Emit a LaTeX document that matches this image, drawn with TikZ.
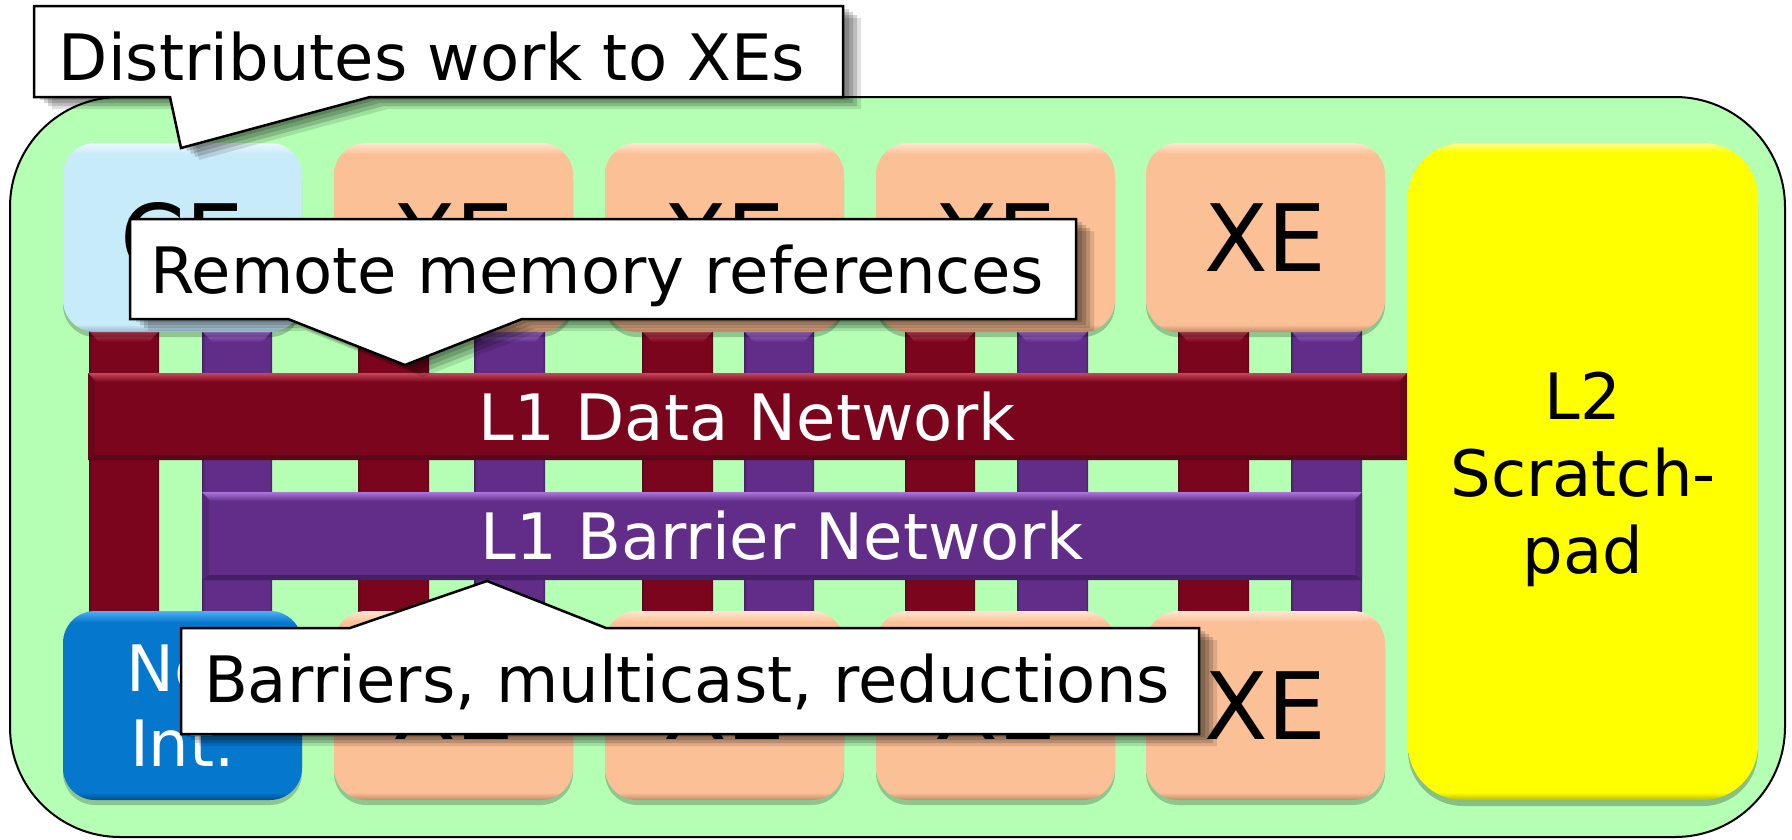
\documentclass[tikz,border=0pt]{standalone}
\usepackage{fontspec}
\setmainfont{DejaVu Sans}
\usetikzlibrary{shadows}

% base colours
\definecolor{bggreen}{RGB}{181,255,181}
\definecolor{cebl}{RGB}{200,235,250}
\definecolor{cebldk}{RGB}{150,182,204}
\definecolor{cebllt}{RGB}{236,248,255}
\definecolor{xepe}{RGB}{252,192,150}
\definecolor{xepedk}{RGB}{196,138,104}
\definecolor{xepelt}{RGB}{255,230,208}
\definecolor{niblue}{RGB}{5,119,205}
\definecolor{nibluedk}{RGB}{0,78,148}
\definecolor{nibluelt}{RGB}{80,175,245}
\definecolor{l2yel}{RGB}{255,255,0}
\definecolor{l2yeldk}{RGB}{190,190,0}
\definecolor{l2yellt}{RGB}{255,255,140}
\definecolor{netred}{RGB}{122,5,28}
\definecolor{netreddk}{RGB}{88,8,24}
\definecolor{netredlt}{RGB}{198,70,92}
\definecolor{netpur}{RGB}{97,45,137}
\definecolor{netpurdk}{RGB}{70,32,100}
\definecolor{netpurlt}{RGB}{172,118,218}

% bevelled fills: darker bottom rim, light top rim
\newcommand\defbevel[1]{%
  \pgfdeclareverticalshading{#1bev}{100bp}{color(0bp)=(#1dk); color(25bp)=(#1dk);
    color(27bp)=(#1); color(72bp)=(#1); color(75bp)=(#1lt); color(100bp)=(#1lt)}}
\defbevel{cebl}\defbevel{xepe}\defbevel{niblue}
\pgfdeclareverticalshading{l2yelbev}{100bp}{color(0bp)=(l2yeldk); color(25bp)=(l2yeldk);
  color(25.6bp)=(l2yel); color(74.3bp)=(l2yel); color(75bp)=(l2yellt); color(100bp)=(l2yellt)}
% vertical link bars: slightly darker side edges
\pgfdeclarehorizontalshading{redbarsh}{100bp}{color(0bp)=(netreddk); color(25bp)=(netreddk);
  color(27bp)=(netred); color(73bp)=(netred); color(75bp)=(netreddk); color(100bp)=(netreddk)}
\pgfdeclarehorizontalshading{purbarsh}{100bp}{color(0bp)=(netpurdk); color(25bp)=(netpurdk);
  color(27bp)=(netpur); color(73bp)=(netpur); color(75bp)=(netpurdk); color(100bp)=(netpurdk)}

\newcommand\xefont{\fontsize{93}{110}\selectfont}
\newcommand\lblfont{\fontsize{64}{77}\selectfont}

% chamfered highlight at the top of a vertical bar
\newcommand\bartop[4]{%
  \shade[top color=#4, bottom color=#3] (#1,331) -- (#2,331) -- ({#2-10},342) -- ({#1+10},342) -- cycle;}

% bevel rims of a horizontal band: x1 y1 x2 y2 base light dark
\newcommand\bandbevel[7]{%
  \shade[top color=#6, bottom color=#5] (#1,#2) -- (#3,#2) -- ({#3-9},{#2+9}) -- ({#1+9},{#2+9}) -- cycle;
  \fill[#7, opacity=0.45] (#1,#2) -- ({#1+7},{#2+9}) -- ({#1+7},{#4-5}) -- (#1,#4) -- cycle;
  \fill[#7, opacity=0.45] (#3,#2) -- ({#3-7},{#2+9}) -- ({#3-7},{#4-5}) -- (#3,#4) -- cycle;
  \fill[#7] (#1,#4) -- ({#1+7},{#4-5}) -- ({#3-7},{#4-5}) -- (#3,#4) -- cycle;}

% speech-bubble frame with a soft offset shadow
\newcommand\bubble[1]{%
  \foreach \dx/\dy/\op in {6/3/0.16, 10/6/0.16, 14/9/0.16, 18/12/0.12}{%
    \fill[black, opacity=\op, shift={(\dx,\dy)}] #1;}%
  \filldraw[fill=white, draw=black, line width=2.5pt] #1;}

\begin{document}
\begin{tikzpicture}[x=1pt, y=-1pt,
  unitbox/.style={rounded corners=32pt, minimum width=239pt, minimum height=189pt,
    inner sep=0pt, font=\xefont,
    drop shadow={shadow xshift=0pt, shadow yshift=-5pt, opacity=0.22, fill=black}},
  xebox/.style={unitbox, shading=xepebev},
  band/.style={inner sep=0pt, text=white, font=\lblfont},
  bubbletext/.style={anchor=base, font=\lblfont, inner sep=0pt}]
\useasboundingbox (0,0) rectangle (1792,839);

% tile background
\node[draw=black, line width=2pt, fill=bggreen, rounded corners=110pt,
  minimum width=1775pt, minimum height=740pt, inner sep=0pt] (chip) at (897.5,467) {};

% vertical links of every tile
\foreach \xa/\xb in {89/159, 358/429, 642/713, 905/975, 1178/1249}{%
  \shade[shading=redbarsh] (\xa,331) rectangle (\xb,611);
  \bartop{\xa}{\xb}{netred}{netredlt}}
\foreach \xa/\xb in {202/272, 474/545, 744/814, 1017/1088, 1291/1362}{%
  \shade[shading=purbarsh] (\xa,331) rectangle (\xb,611);
  \bartop{\xa}{\xb}{netpur}{netpurlt}}

% the two L1 networks
\node[band, fill=netred, minimum width=1319pt, minimum height=87pt] (dnet) at (747.5,416.5) {L1 Data Network};
\bandbevel{88}{373}{1407}{460}{netred}{netredlt}{netreddk}
\node[band, fill=netpur, minimum width=1160pt, minimum height=88pt] (bnet) at (782,536) {L1 Barrier Network};
\bandbevel{202}{492}{1362}{580}{netpur}{netpurlt}{netpurdk}

% engines, top row
\node[unitbox, shading=ceblbev] (ce) at (182.5,237.5) {CE};
\node[xebox] (xt1) at (453.5,237.5) {XE};
\node[xebox] (xt2) at (724.5,237.5) {XE};
\node[xebox] (xt3) at (995.5,237.5) {XE};
\node[xebox] (xt4) at (1265.5,237.5) {XE};

% engines, bottom row
\node[unitbox, shading=nibluebev, text=white, align=center,
  font=\fontsize{64}{75}\selectfont] (ni) at (182.5,705.5) {Net\\Int.};
\node[xebox] (xb1) at (453.5,705.5) {XE};
\node[xebox] (xb2) at (724.5,705.5) {XE};
\node[xebox] (xb3) at (995.5,705.5) {XE};
\node[xebox] (xb4) at (1265.5,705.5) {XE};

% shared L2 memory
\node[rounded corners=55pt, minimum width=350pt, minimum height=657pt, inner sep=0pt,
  shading=l2yelbev,
  drop shadow={shadow xshift=0pt, shadow yshift=-6pt, opacity=0.25, fill=black}] (l2) at (1583,471.5) {};
\node[align=center, font=\lblfont, inner sep=0pt] (l2txt) at (1583,479) {L2\\Scratch-\\pad};

% annotations
\bubble{(34,6) -- (843,6) -- (843,97) -- (370,97) -- (181,148) -- (170,97) -- (34,97) -- cycle}
\node[bubbletext] (c1) at (432,80) {Distributes work to XEs};

\bubble{(130,219) -- (1076,219) -- (1076,319) -- (522,319) -- (405,365) -- (288,319) -- (130,319) -- cycle}
\node[bubbletext] (c2) at (597,293) {Remote memory references};

\bubble{(181,628) -- (350,628) -- (487,581) -- (606,628) -- (1199,628) -- (1199,734) -- (181,734) -- cycle}
\node[bubbletext] (c3) at (687,702) {Barriers, multicast, reductions};
\end{tikzpicture}
\end{document}
